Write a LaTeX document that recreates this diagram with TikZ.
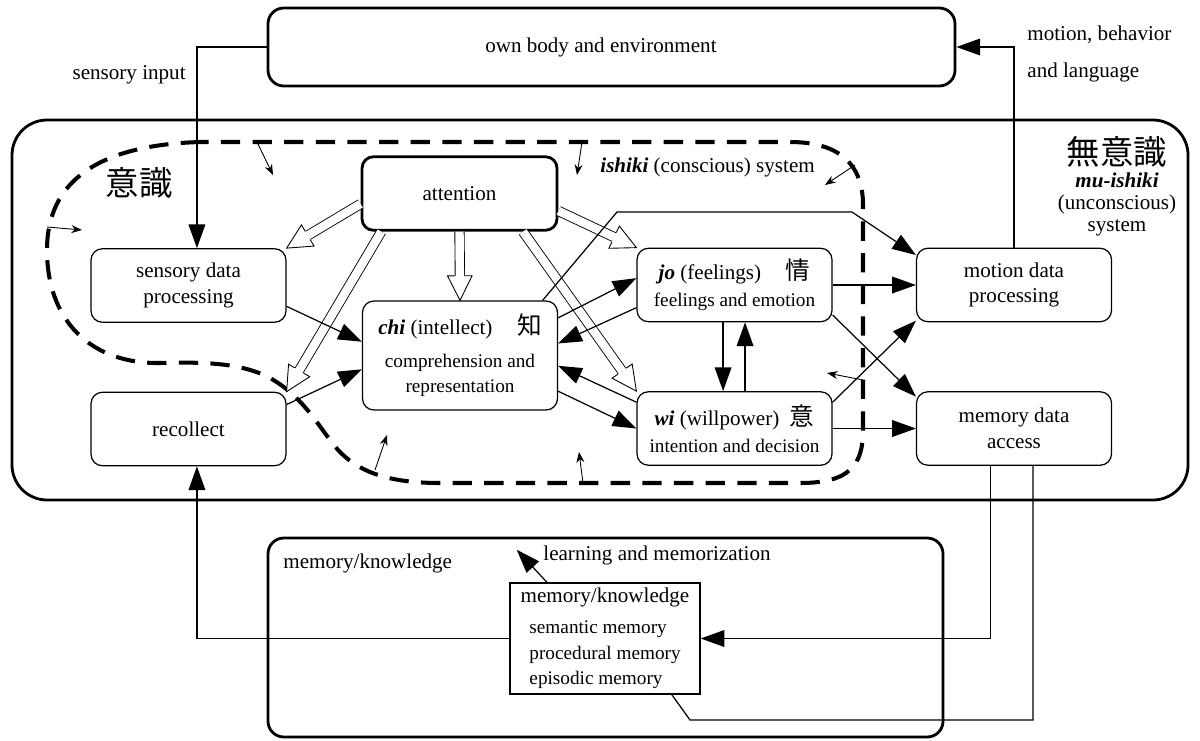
\documentclass[tikz,border=0pt,12pt]{standalone}
\usepackage{fontspec}
\setmainfont{Liberation Serif}
\newfontfamily\cjk{Noto Sans CJK JP}
\usetikzlibrary{arrows.meta,calc}

\newcommand{\cjkbig}{\cjk\fontsize{14}{14}\selectfont}
\newcommand{\hollowarrow}[2]{%
  \coordinate (hb) at ($(#2)!14pt!(#1)$);
  \draw[line width=0.5pt, double=white, double distance=4.8pt] (#1) -- (hb);
  \filldraw[line width=0.5pt, fill=white] ($(hb)!2.9pt!90:(#2)$) -- ($(hb)!7pt!90:(#2)$)
    -- (#2) -- ($(hb)!7pt!-90:(#2)$) -- ($(hb)!2.9pt!-90:(#2)$);
}

\begin{document}
\begin{tikzpicture}[x=0.2mm, y=-0.2mm,
    box/.style={draw, rounded corners=6.5pt, line width=0.7pt, minimum width=39mm, minimum height=14.7mm, align=center, inner sep=2pt},
    thick box/.style={box, line width=1.6pt},
    region/.style={draw, line width=1.6pt},
    conn/.style={line width=0.7pt, -{Triangle[length=13.5pt,width=9.5pt]}},
    small arrow/.style={line width=0.5pt, -{Stealth[length=6pt,width=4.5pt]}},
    boundary/.style={line width=2.3pt, dash pattern=on 11pt off 7pt},
    ]
  \useasboundingbox (0,0) rectangle (1200,740);

  % outer regions
  \node[region, rounded corners=20pt, minimum width=235.2mm, minimum height=76mm] (muishiki) at (600,310) {};
  \node[thick box, rounded corners=9pt, minimum width=137.4mm, minimum height=15.6mm] (env) at (611.5,47) {\hspace*{-12pt}own body and environment};
  \node[region, rounded corners=9pt, minimum width=135mm, minimum height=39.8mm] (memory) at (605.5,637.5) {};

  % ishiki boundary
  \draw[boundary] (200,142) .. controls (100,145) and (47,180) .. (47,250)
    .. controls (47,320) and (90,364) .. (160,363)
    .. controls (200,362) and (240,362) .. (270,378)
    .. controls (300,395) and (315,420) .. (330,440)
    .. controls (350,468) and (380,483) .. (440,483) -- (800,483)
    .. controls (850,483) and (863,465) .. (863,430) -- (863,205)
    .. controls (863,165) and (840,142) .. (790,142) -- cycle;
  \draw[small arrow] (257,142) -- (273,175);
  \draw[small arrow] (47,227) -- (82,230);
  \draw[small arrow] (582,142) -- (577,175);
  \draw[small arrow] (855,165) -- (825,185);
  \draw[small arrow] (863,380) -- (827,373);
  \draw[small arrow] (375,470) -- (387,435);
  \draw[small arrow] (583,483) -- (579,452);

  % boxes
  \node[box] (sens) at (188.5,285.5) {sensory data\\processing};
  \node[box] (recol) at (188.5,429) {recollect};
  \node[thick box] (att) at (459.5,193.5) {attention};
  \node[box, minimum height=21.8mm] (chi) at (460,355.5) {\textbf{\textit{chi}} (intellect)\hspace{14pt}{\cjkbig 知}\\[4pt]{\small comprehension and}\\{\small representation}};
  \node[box] (jo) at (734.5,285) {\textbf{\textit{jo}} (feelings)\hspace{14pt}{\cjkbig 情}\\[1pt]{\small feelings and emotion}};
  \node[box] (wi) at (734.5,428.5) {\textbf{\textit{wi}} (willpower)\hspace{6pt}{\cjkbig 意}\\[1pt]{\small intention and decision}};
  \node[box] (motion) at (1014,285) {motion data\\processing};
  \node[box] (memacc) at (1014,428.5) {memory data\\access};
  \node[draw, line width=0.7pt, minimum width=38mm, minimum height=22.2mm, align=left, inner sep=2pt] (memk) at (605,638.5)
    {memory/knowledge\\[3pt]{\small\hspace*{5pt}semantic memory}\\{\small\hspace*{5pt}procedural memory}\\{\small\hspace*{5pt}episodic memory}};

  % labels
  \node[anchor=east] (sensin) at (193,75) {sensory input};
  \node[anchor=west, align=left] (motout) at (1020,54) {motion, behavior\\[7pt]and language};
  \node[font=\cjk\fontsize{19}{19}\selectfont] (ishikiJ) at (139,183) {意識};
  \node[anchor=west] (ishikiE) at (593,167) {\textbf{\textit{ishiki}} (conscious) system};
  \node[font=\cjk\fontsize{19}{19}\selectfont] (muJ) at (1117,152) {無意識};
  \node[align=center, font=\fontsize{12}{12.5}\selectfont] (muE) at (1117,204) {\textbf{\textit{mu-ishiki}}\\(unconscious)\\system};
  \node[anchor=west] (memlabel) at (276,563) {memory/knowledge};
  \node[anchor=west] (learnlabel) at (536,555) {learning and memorization};

  % attention
  \hollowarrow{att.186}{sens.north east}
  \hollowarrow{att.206}{recol.north east}
  \hollowarrow{att.south}{chi.north}
  \hollowarrow{att.-10}{jo.north west}
  \hollowarrow{att.-31}{wi.north west}

  % connections
  \draw[conn] (env.west) -| ([xshift=4.8pt]sens.north);
  \draw[conn] (motion.north) |- (env.east);
  \draw[conn] (sens.-12) -- (chi.172);
  \draw[conn] (recol.14) -- (chi.188);
  \draw[conn] (chi.21) -- (jo.176);
  \draw[conn] (jo.193) -- (chi.7);
  \draw[conn] (wi.165) -- (chi.-6);
  \draw[conn] (chi.-20) -- (wi.180);
  \draw[conn] ([xshift=-6.5pt]jo.south) -- ([xshift=-6.5pt]wi.north);
  \draw[conn] ([xshift=6pt]wi.north) -- ([xshift=6pt]jo.south);
  \draw[conn] (jo.east) -- (motion.west);
  \draw[conn] (jo.-17) -- (memacc.162);
  \draw[conn] (wi.15) -- (motion.200);
  \draw[conn] (wi.east) -- (memacc.west);
  \draw[conn] ([xshift=47pt]chi.north) -- (617,212) -- (852,212) -- (motion.163);
  \draw[conn] ([xshift=-13.6pt]memacc.south) |- (memk.east);
  \draw[line width=0.7pt] ([xshift=10.8pt]memacc.south) |- (690,720) -- ([xshift=38pt]memk.south);
  \draw[conn] (memk.west) -| ([xshift=4.8pt]recol.south);
  \draw[conn] ([xshift=-33pt]memk.north) -- ([xshift=-11pt,yshift=3pt]learnlabel.west);
\end{tikzpicture}
\end{document}
